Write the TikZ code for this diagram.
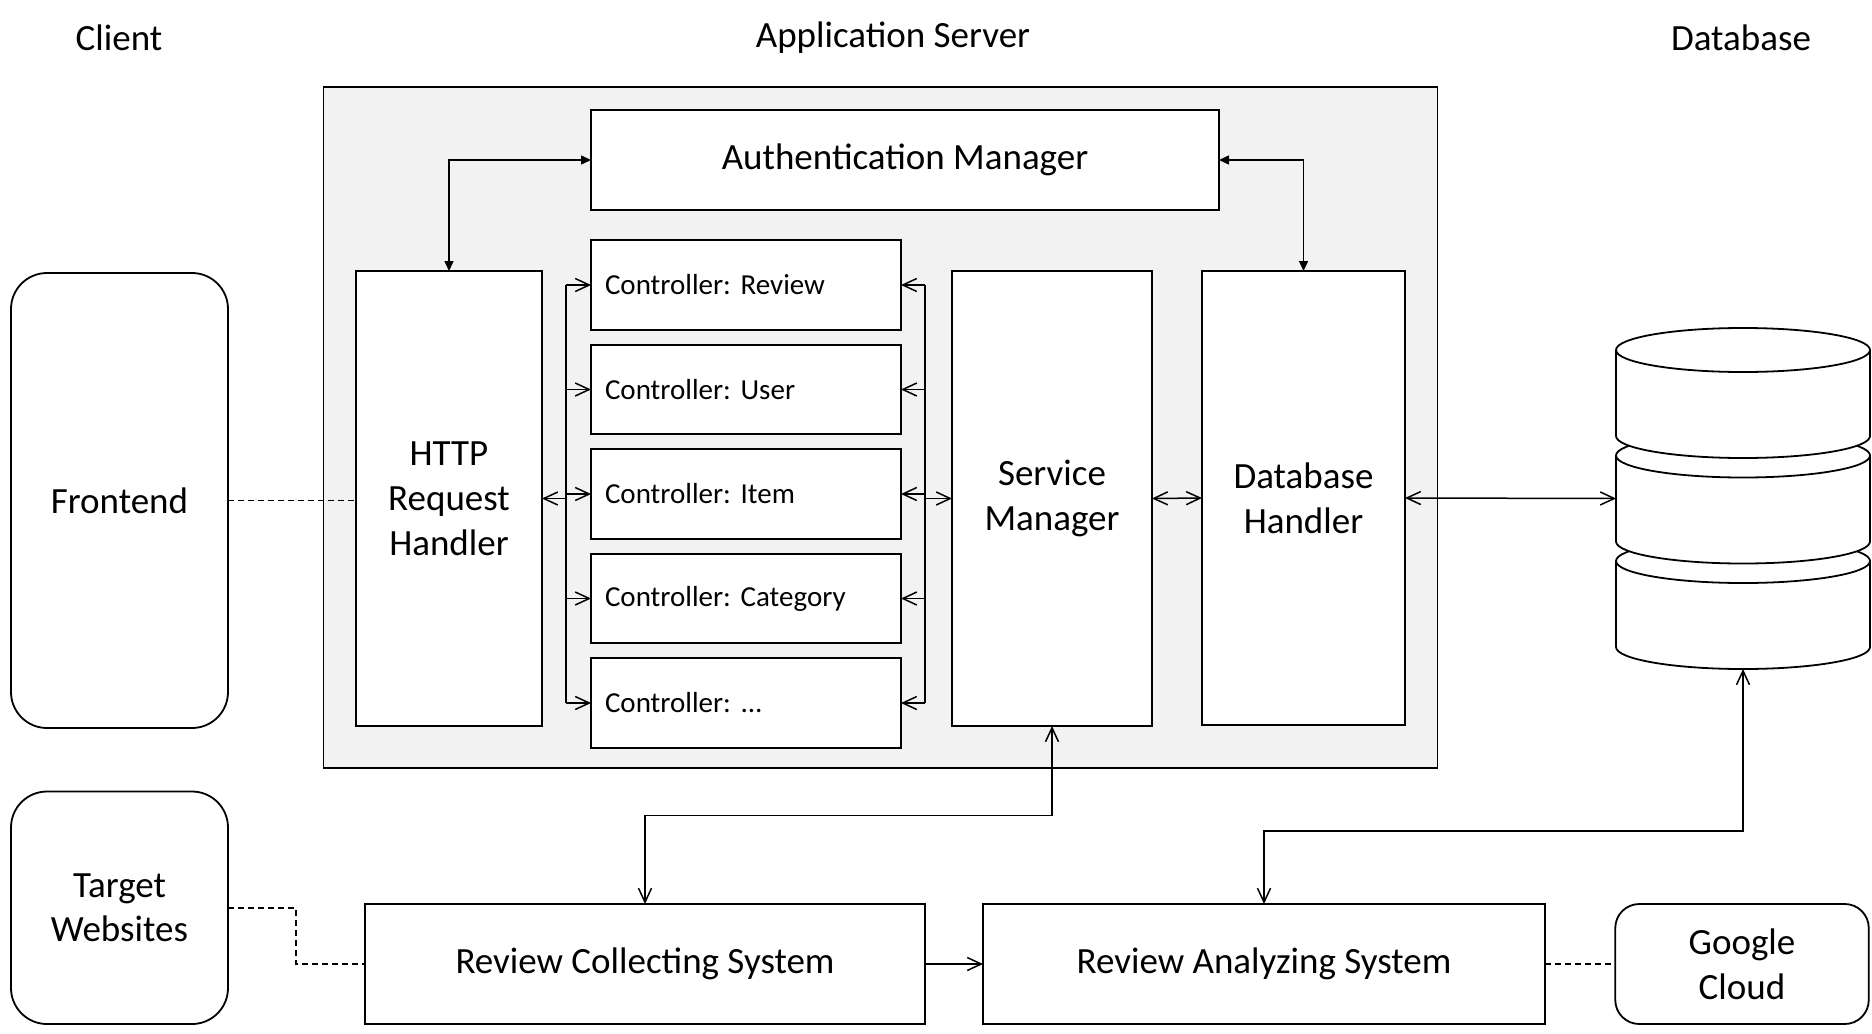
\documentclass[tikz,border=0pt]{standalone}
\usepackage{fontspec}
\setmainfont{Carlito}
\usetikzlibrary{arrows.meta}
\definecolor{panel}{HTML}{F2F2F2}
\frenchspacing
\begin{document}
\begin{tikzpicture}[x=0.5pt, y=-0.5pt, line join=miter,
    every node/.style={font=\fontsize{18.5}{22.4}\selectfont, outer sep=0pt, inner sep=0pt, align=center},
    box/.style={draw, fill=white, line width=0.9pt},
    ctrl/.style={box, minimum width=155pt, minimum height=44.75pt, inner xsep=7pt, text width=141pt, align=left, font=\fontsize{14.5}{17}\selectfont},
    link/.style={line width=0.75pt},
    authlink/.style={line width=0.75pt, {Triangle[length=5pt,width=4.5pt]}-{Triangle[length=5pt,width=4.5pt]}},
    >={Straight Barb[length=7pt,width=6.5pt]}]
    \useasboundingbox (0,0) rectangle (1872,1033);

    % Headers
    \node (client) at (119, 38) {Client};
    \node (server) at (893, 38) {Application Server};
    \node (database) at (1741, 38) {Database};

    % Application server
    \node[draw, fill=panel, line width=0.9pt, minimum width=557pt, minimum height=340.5pt] (appsrv) at (880.5, 427.5) {};
    \node[box, minimum width=314pt, minimum height=50pt] (auth) at (905, 160) {Authentication Manager};
    \node[box, minimum width=93pt, minimum height=227.5pt] (http) at (449, 498.5) {HTTP\\Request\\Handler};
    \node[ctrl] (c1) at (746, 285) {Controller: Review};
    \node[ctrl] (c2) at (746, 389.5) {Controller: User};
    \node[ctrl] (c3) at (746, 494) {Controller: Item};
    \node[ctrl] (c4) at (746, 598.5) {Controller: Category};
    \node[ctrl] (c5) at (746, 703) {Controller: ...};
    \node[box, minimum width=100pt, minimum height=227.5pt] (service) at (1052, 498.5) {Service\\Manager};
    \node[box, minimum width=101.5pt, minimum height=227pt] (dbh) at (1303.5, 498) {Database\\Handler};

    % Client side
    \node[box, rounded corners=18pt, minimum width=108.5pt, minimum height=227.5pt] (frontend) at (119.5, 500.5) {Frontend};
    \node[box, rounded corners=18pt, minimum width=108.5pt, minimum height=116.25pt] (target) at (119.5, 907.75) {Target\\Websites};

    % Bottom row
    \node[box, minimum width=280pt, minimum height=60pt] (rcs) at (645, 964) {Review Collecting System};
    \node[box, minimum width=281pt, minimum height=60pt] (ras) at (1264, 964) {Review Analyzing System};
    \node[box, rounded corners=12pt, minimum width=126.75pt, minimum height=60pt] (google) at (1742, 964) {Google\\Cloud};

    % Database stack
    \filldraw[box] (1616, 561) -- (1616, 647) arc (180:0:127 and 22) -- (1870, 561) arc (0:-180:127 and 22) -- cycle;
    \draw[line width=0.9pt] (1616, 561) arc (180:0:127 and 22);
    \filldraw[box] (1616, 455.5) -- (1616, 541.5) arc (180:0:127 and 22) -- (1870, 455.5) arc (0:-180:127 and 22) -- cycle;
    \draw[line width=0.9pt] (1616, 455.5) arc (180:0:127 and 22);
    \filldraw[box] (1616, 350) -- (1616, 436) arc (180:0:127 and 22) -- (1870, 350) arc (0:-180:127 and 22) -- cycle;
    \draw[line width=0.9pt] (1616, 350) arc (180:0:127 and 22);
    \node[minimum width=127pt, minimum height=170.5pt] (db) at (1743, 498.5) {};

    % Authentication links
    \draw[authlink] (http.north) |- (auth.west);
    \draw[authlink] (auth.east) -| (dbh.north);

    % Controller buses
    \coordinate (lbus) at (566, 499);
    \coordinate (rbus) at (925, 499);
    \draw[link, <-] (http.east) -- (http.east -| lbus);
    \draw[link] (c1.west -| lbus) -- (c5.west -| lbus);
    \draw[link, ->] (c1.west -| lbus) -- (c1.west);
    \draw[link, ->] (c2.west -| lbus) -- (c2.west);
    \draw[link, ->] (c3.west -| lbus) -- (c3.west);
    \draw[link, ->] (c4.west -| lbus) -- (c4.west);
    \draw[link, ->] (c5.west -| lbus) -- (c5.west);
    \draw[link] (c1.east -| rbus) -- (c5.east -| rbus);
    \draw[link, <-] (c1.east) -- (c1.east -| rbus);
    \draw[link, <-] (c2.east) -- (c2.east -| rbus);
    \draw[link, <-] (c3.east) -- (c3.east -| rbus);
    \draw[link, <-] (c4.east) -- (c4.east -| rbus);
    \draw[link, <-] (c5.east) -- (c5.east -| rbus);
    \draw[link, ->] (service.west -| rbus) -- (service.west);

    % Data links
    \draw[link, <->] (service.east) -- (dbh.west);
    \draw[link, <->] (dbh.east) -- (db.west);
    \draw[link, <->] (service.south) -- ++(0, 89.5) -| (rcs.north);
    \draw[link, <->] (ras.north) -- ++(0, -73) -| (db.south);
    \draw[link, ->] (rcs.east) -- (ras.west);

    % Dashed links
    \draw[link, dashed, dash pattern=on 3pt off 2pt] (frontend.east) -- (frontend.east -| http.west);
    \draw[link, dashed, dash pattern=on 3pt off 2pt] (target.east) -- ++(68, 0) |- (rcs.west);
    \draw[link, dashed, dash pattern=on 3pt off 2pt] (ras.east) -- (google.west);
\end{tikzpicture}
\end{document}
